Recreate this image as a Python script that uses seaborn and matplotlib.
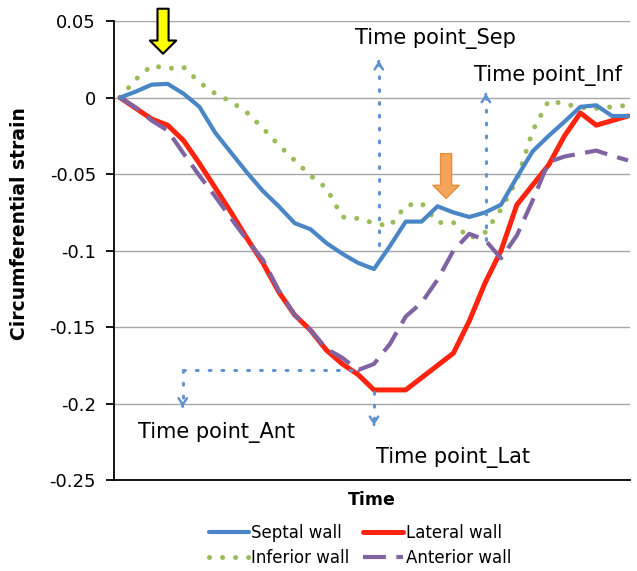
import matplotlib
matplotlib.use("Agg")
import matplotlib.pyplot as plt
import seaborn as sns
import numpy as np
import pandas as pd

# ---- data ----
time_idx = list(range(33))
septal = [0, 0.004, 0.0085, 0.009, 0.0026, -0.006, -0.023, -0.036, -0.049, -0.061,
          -0.071, -0.082, -0.086, -0.095, -0.102, -0.108, -0.112, -0.097, -0.081, -0.081,
          -0.071, -0.075, -0.078, -0.075, -0.070, -0.052, -0.035, -0.025, -0.0157, -0.006,
          -0.005, -0.012, -0.012]
lateral = [0, -0.007, -0.014, -0.018, -0.028, -0.043, -0.059, -0.075, -0.092, -0.108,
           -0.127, -0.142, -0.152, -0.165, -0.174, -0.181, -0.191, -0.191, -0.191, -0.183,
           -0.175, -0.167, -0.146, -0.121, -0.100, -0.070, -0.057, -0.044, -0.025, -0.010,
           -0.018, -0.015, -0.012]
inferior = [0, 0.012, 0.021, 0.019, 0.020, 0.010, 0.0026, -0.0026, -0.0098, -0.020,
            -0.031, -0.041, -0.051, -0.059, -0.078, -0.079, -0.082, -0.084, -0.0705, -0.069,
            -0.0816, -0.0816, -0.092, -0.088, -0.073, -0.054, -0.0215, -0.002, -0.004, -0.0065,
            -0.007, -0.006, -0.005]
anterior = [0, -0.0065, -0.015, -0.0215, -0.0365, -0.051, -0.0646, -0.079, -0.093, -0.106,
            -0.126, -0.142, -0.152, -0.164, -0.170, -0.178, -0.174, -0.161, -0.143, -0.134,
            -0.119, -0.100, -0.089, -0.093, -0.105, -0.090, -0.067, -0.042, -0.0385, -0.0365,
            -0.0346, -0.038, -0.041]
y_ticks = [0.05, 0, -0.05, -0.1, -0.15, -0.2, -0.25]
y_tick_labels = ["0.05", "0", "-0.05", "-0.1", "-0.15", "-0.2", "-0.25"]
series_names = ["Septal wall", "Lateral wall", "Inferior wall", "Anterior wall"]

# annotation positions (time index, strain)
tp_sep = (16.3, -0.0966, 0.024)
tp_lat = (16.0, -0.1925, -0.214)
tp_inf = (23.05, -0.093, 0.0026)
tp_ant_h = (3.95, 14.8, -0.178)
tp_ant_tip = -0.202

sns.set_style("white")
plt.rcParams["font.family"] = ["DejaVu Sans"]
plt.rcParams["text.color"] = "black"
plt.rcParams["axes.labelcolor"] = "black"
plt.rcParams["xtick.color"] = "black"
plt.rcParams["ytick.color"] = "black"

fig = plt.figure(figsize=(6.37, 5.71), dpi=100)
ax = fig.add_axes([0.179, 0.159, 0.81, 0.804])

df = pd.DataFrame({"t": time_idx, "Septal wall": septal, "Lateral wall": lateral,
                   "Inferior wall": inferior, "Anterior wall": anterior})

sns.lineplot(data=df, x="t", y="Septal wall", ax=ax, color="#4A86C6", lw=3.0,
             label="Septal wall", zorder=4)
sns.lineplot(data=df, x="t", y="Lateral wall", ax=ax, color="#FF2410", lw=3.6,
             label="Lateral wall", zorder=3)
sns.lineplot(data=df, x="t", y="Inferior wall", ax=ax, color="#9BBB59", lw=3.6,
             linestyle=(0, (0.01, 2.6)), dash_capstyle="round",
             label="Inferior wall", zorder=2)
sns.lineplot(data=df, x="t", y="Anterior wall", ax=ax, color="#8064A2", lw=3.0,
             linestyle=(0, (5.5, 2.5)), label="Anterior wall", zorder=3.5)

# axes styling
ax.set_xlim(-0.378, 32.126)
ax.set_ylim(-0.25, 0.05)
ax.set_yticks(y_ticks)
ax.set_yticklabels(y_tick_labels, fontsize=13, color="black")
ax.set_xticks([])
ax.yaxis.grid(True, color="#A6A6A6", lw=1.0)
ax.xaxis.grid(False)
for s in ["top", "right"]:
    ax.spines[s].set_visible(False)
for s in ["left", "bottom"]:
    ax.spines[s].set_color("black")
    ax.spines[s].set_linewidth(1.3)
ax.tick_params(axis="y", left=True, length=6, width=1.3, color="black", pad=7)
ax.set_ylabel("Circumferential strain", fontsize=13.5, fontweight="bold", color="black")
ax.yaxis.set_label_coords(-0.165, 0.56)
ax.set_xlabel("Time", fontsize=12.5, fontweight="bold", labelpad=8, color="black")

# dotted time-point markers
dot_col = "#5F93CF"
dot_ls = (0, (0.6, 3.6))
def chevron(x, y, up=True):
    dy = 0.0005 if up else -0.0005
    ax.annotate("", xy=(x, y), xytext=(x, y - dy),
                arrowprops=dict(arrowstyle="->,head_width=0.3,head_length=0.45",
                                color=dot_col, lw=1.8, shrinkA=0, shrinkB=0),
                annotation_clip=False)

ax.plot([tp_sep[0], tp_sep[0]], [tp_sep[1], tp_sep[2]], color=dot_col, lw=2.2, ls=dot_ls,
        dash_capstyle="round", zorder=5)
chevron(tp_sep[0], tp_sep[2], True)
ax.plot([tp_inf[0], tp_inf[0]], [tp_inf[1], tp_inf[2]], color=dot_col, lw=2.2, ls=dot_ls,
        dash_capstyle="round", zorder=5)
chevron(tp_inf[0], tp_inf[2], True)
ax.plot([tp_lat[0], tp_lat[0]], [tp_lat[1], tp_lat[2]], color=dot_col, lw=2.2, ls=dot_ls,
        dash_capstyle="round", zorder=5)
chevron(tp_lat[0], tp_lat[2], False)
ax.plot([tp_ant_h[0], tp_ant_h[1]], [tp_ant_h[2], tp_ant_h[2]], color=dot_col, lw=2.2,
        ls=dot_ls, dash_capstyle="round", zorder=5)
ax.plot([tp_ant_h[0], tp_ant_h[0]], [tp_ant_h[2], tp_ant_tip], color=dot_col, lw=2.2,
        ls=dot_ls, dash_capstyle="round", zorder=5)
chevron(tp_ant_h[0], tp_ant_tip, False)

# text labels
tkw = dict(fontsize=15, ha="center", va="center", color="black")
ax.text(19.85, 0.0385, "Time point_Sep", **tkw)
ax.text(26.96, 0.0144, "Time point_Inf", **tkw)
ax.text(6.1, -0.2187, "Time point_Ant", **tkw)
ax.text(21.0, -0.235, "Time point_Lat", **tkw)

# block arrows
ax.annotate("", xy=(2.71, 0.0287), xytext=(2.71, 0.0581), annotation_clip=False,
            arrowprops=dict(arrowstyle="simple,head_width=19,head_length=9.5,tail_width=8",
                            mutation_scale=1, fc="#FFFF00", ec="black", lw=1.5,
                            shrinkA=0, shrinkB=0), zorder=6)
ax.annotate("", xy=(20.54, -0.0659), xytext=(20.54, -0.0366), annotation_clip=False,
            arrowprops=dict(arrowstyle="simple,head_width=19,head_length=9.5,tail_width=8",
                            mutation_scale=1, fc="#F5A55A", ec="#E38F40", lw=1.0,
                            shrinkA=0, shrinkB=0), zorder=6)

# legend (column-wise fill: Septal/Inferior in col 1, Lateral/Anterior in col 2)
handles, labels = ax.get_legend_handles_labels()
order = [labels.index(n) for n in ["Septal wall", "Inferior wall", "Lateral wall", "Anterior wall"]]
leg = ax.legend([handles[i] for i in order], [labels[i] for i in order],
                loc="center", bbox_to_anchor=(0.565, 0.0447), bbox_transform=fig.transFigure,
                ncol=2, frameon=False, fontsize=12, handlelength=2.4, handletextpad=0.15,
                columnspacing=0.8, labelspacing=0.42, borderaxespad=0, borderpad=0)
for t in leg.get_texts():
    t.set_color("black")

fig.savefig("out.png", dpi=100)
